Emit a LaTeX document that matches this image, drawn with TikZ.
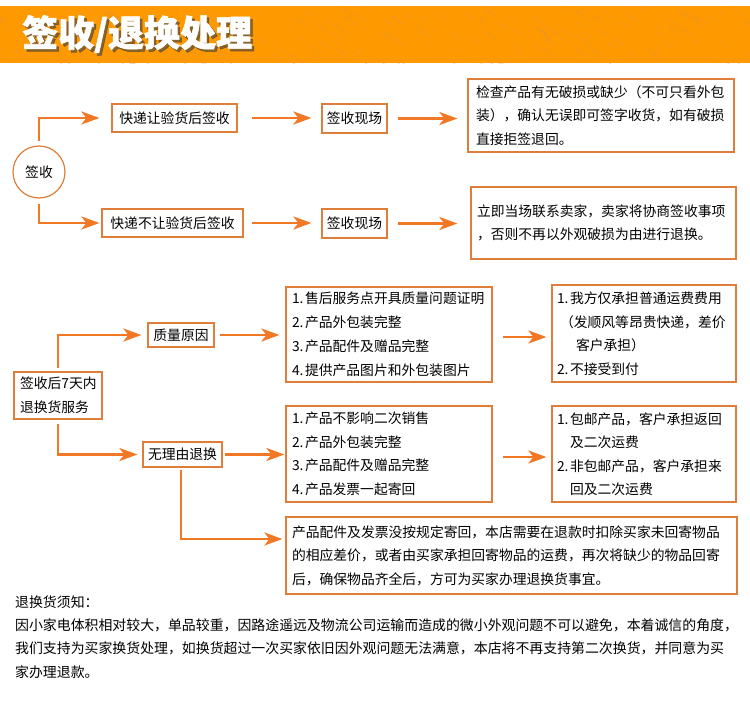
\documentclass[tikz,border=0pt]{standalone}
\usepackage{fontspec}
\setmainfont{Noto Sans CJK SC}
\newfontfamily\titlefont[BoldFeatures={FakeBold=1.6}]{Noto Sans CJK SC}
\usetikzlibrary{arrows.meta}
\definecolor{arrc}{RGB}{242,120,38}
\definecolor{boxc}{RGB}{222,126,58}
\definecolor{hdr}{RGB}{255,153,0}
\definecolor{hdrd}{RGB}{226,150,60}
\newcommand{\myfs}{\fontsize{13.8pt}{23.5pt}\selectfont}
\newcommand{\nm}[1]{\makebox[13pt][l]{#1}}
\begin{document}
\begin{tikzpicture}[x=1pt,y=-1pt,
  arr/.style={draw=arrc, line width=2.8pt, -{Stealth[length=18pt,width=13pt,inset=5pt]}},
  bx/.style={draw=boxc, line width=1.2pt, inner sep=0pt, font=\myfs, text=black},
  mbx/.style={bx, align=left, inner ysep=0pt},
  titlef/.style={font=\titlefont\fontsize{36pt}{40pt}\selectfont\bfseries, inner sep=0pt, anchor=west}
]
\useasboundingbox (0,0) rectangle (750,712);
\fill[white] (0,0) rectangle (750,712);

% header band
\fill[hdr] (0,6) rectangle (750,63);
\begin{scope}
  \clip (0,6) rectangle (750,63);
  \pgfmathsetseed{7}
  \foreach \i in {1,...,260} {
    \pgfmathsetmacro\xx{rnd*760-5}
    \pgfmathsetmacro\yy{6+rnd*57}
    \pgfmathsetmacro\ll{3+rnd*9}
    \draw[hdrd, line width=1.1pt, opacity=0.35, line cap=round] (\xx,\yy) -- ++(\ll,0.75*\ll);
  }
\end{scope}
\node[titlef, text=black!75, opacity=0.6] (tshadow) at (24.5,36.5) {签收/退换处理};
\node[titlef, text=white] (title) at (22,34) {签收/退换处理};

% top section
\node[bx, circle, minimum size=52pt] (circ) at (39,172) {签收};
\node[bx, minimum width=125pt, minimum height=28pt] (A1) at (174.5,118) {快递让验货后签收};
\node[bx, minimum width=65pt, minimum height=29pt] (A2) at (354.5,118.5) {签收现场};
\node[mbx, text width=250pt, inner xsep=8pt, minimum height=73pt] (A3) at (601,115.5)
  {检查产品有无破损或缺少（不可只看外包\\装），确认无误即可签字收货，如有破损\\直接拒签退回。};
\node[bx, minimum width=141pt, minimum height=28pt] (B1) at (172.5,223) {快递不让验货后签收};
\node[bx, minimum width=65pt, minimum height=29pt] (B2) at (354.5,223.5) {签收现场};
\node[mbx, text width=253pt, inner xsep=6pt, minimum height=72pt] (B3) at (603.5,223)
  {立即当场联系卖家，卖家将协商签收事项\\，否则不再以外观破损为由进行退换。};

\draw[arr, shorten <=4pt, shorten >=12pt] (circ) |- (A1);
\draw[arr, shorten <=5pt, shorten >=2pt] (circ) |- (B1);
\draw[arr, shorten <=14pt, shorten >=10pt] (A1.east) -- (A1.east -| A2.west);
\draw[arr, shorten <=10pt, shorten >=10pt] (A2.east) -- (A2.east -| A3.west);
\draw[arr, shorten <=8pt, shorten >=10pt] (B1.east) -- (B1.east -| B2.west);
\draw[arr, shorten <=10pt, shorten >=13pt] (B2.east) -- (B2.east -| B3.west);

% middle section
\node[mbx, text width=76pt, inner xsep=6pt, minimum height=47pt, font=\fontsize{13.8pt}{24pt}\selectfont] (C0) at (58,395.5)
  {签收后7天内\\退换货服务};
\node[bx, minimum width=66pt, minimum height=24pt] (D1) at (181,335) {质量原因};
\node[bx, minimum width=79pt, minimum height=25pt] (D2) at (182.5,454.5) {无理由退换};
\node[mbx, text width=194pt, inner xsep=6pt, minimum height=95pt, font=\fontsize{13.8pt}{24pt}\selectfont] (L1) at (389,334.5)
  {\nm{1.}售后服务点开具质量问题证明\\\nm{2.}产品外包装完整\\\nm{3.}产品配件及赠品完整\\\nm{4.}提供产品图片和外包装图片};
\node[mbx, text width=194pt, inner xsep=6pt, minimum height=96pt] (L2) at (389,454)
  {\nm{1.}产品不影响二次销售\\\nm{2.}产品外包装完整\\\nm{3.}产品配件及赠品完整\\\nm{4.}产品发票一起寄回};
\node[mbx, text width=174pt, inner xsep=5pt, minimum height=97pt] (R1) at (644,333.5)
  {\nm{1.}我方仅承担普通运费费用\\\hspace*{3pt}（发顺风等昂贵快递，差价\\\hspace*{19pt}客户承担）\\\nm{2.}不接受到付};
\node[mbx, text width=174pt, inner xsep=5pt, minimum height=96pt] (R2) at (644,454)
  {\nm{1.}包邮产品，客户承担返回\\\hspace*{13pt}及二次运费\\\nm{2.}非包邮产品，客户承担来\\\hspace*{13pt}回及二次运费};
\node[mbx, text width=439pt, inner xsep=6pt, minimum height=77pt] (E) at (511.5,555.5)
  {产品配件及发票没按规定寄回，本店需要在退款时扣除买家未回寄物品\\的相应差价，或者由买家承担回寄物品的运费，再次将缺少的物品回寄\\后，确保物品齐全后，方可为买家办理退换货事宜。};

\draw[arr, shorten <=3pt, shorten >=6pt] (C0) |- (D1);
\draw[arr, shorten <=4pt, shorten >=5pt] (C0) |- (D2);
\draw[arr, shorten <=5pt, shorten >=6pt] (D1.east) -- (D1.east -| L1.west);
\draw[arr, shorten <=2pt, shorten >=1pt] (D2.east) -- (D2.east -| L2.west);
\draw[arr, shorten <=10pt, shorten >=5pt] ([yshift=-2.5pt]L1.east) -- ([yshift=-2.5pt]L1.east -| R1.west);
\draw[arr, shorten <=10pt, shorten >=5pt] ([yshift=-3pt]L2.east) -- ([yshift=-3pt]L2.east -| R2.west);
\draw[arr, shorten <=2pt, shorten >=3pt] ([xshift=-1.5pt]D2.south) |- ([yshift=16.5pt]E.west);

% notes
\node[anchor=west, inner sep=0pt, align=left, font=\fontsize{13.9pt}{23.3pt}\selectfont] (note) at (15,637)
  {退换货须知：\\因小家电体积相对较大，单品较重，因路途遥远及物流公司运输而造成的微小外观问题不可以避免，本着诚信的角度，\\我们支持为买家换货处理，如换货超过一次买家依旧因外观问题无法满意，本店将不再支持第二次换货，并同意为买\\家办理退款。};
\end{tikzpicture}
\end{document}
